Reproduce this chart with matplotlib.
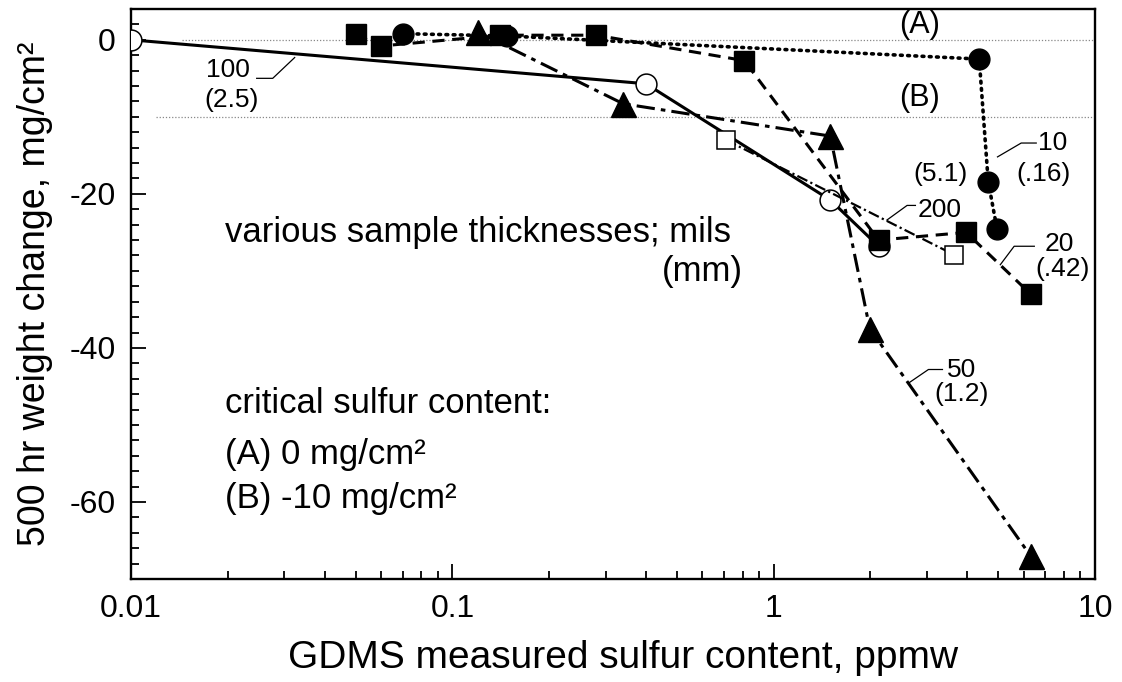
import matplotlib
matplotlib.use("Agg")
import matplotlib.pyplot as plt
from matplotlib.ticker import FixedLocator, MultipleLocator, LogLocator, NullFormatter

plt.rcParams['font.family'] = ['Liberation Sans', 'DejaVu Sans']
plt.rcParams['axes.unicode_minus'] = False

# ---- data ----
s10_x = [0.07, 0.148, 4.36, 4.65, 4.95]
s10_y = [0.8, 0.5, -2.5, -18.4, -24.5]

s20_x = [0.05, 0.06, 0.141, 0.28, 0.81, 2.12, 3.97, 6.3]
s20_y = [0.7, -0.8, 0.6, 0.6, -2.7, -26.0, -25.0, -33.0]

s50_x = [0.12, 0.34, 1.5, 1.99, 6.3]
s50_y = [1.0, -8.3, -12.5, -37.5, -67.0]

s100_x = [0.01, 0.40, 1.5, 2.12]
s100_y = [0.0, -5.7, -20.8, -26.8]

s200_x = [0.71, 3.64]
s200_y = [-13.0, -27.9]

crit_levels = [0.0, -10.0]
crit_names = ["(A)", "(B)"]

x_ticks = [0.01, 0.1, 1, 10]
x_ticklabels = ["0.01", "0.1", "1", "10"]
y_ticks = [0, -20, -40, -60]
y_ticklabels = ["0", "-20", "-40", "-60"]

fig = plt.figure(figsize=(11.22, 6.82), dpi=100)
ax = fig.add_axes([0.1168, 0.151, 0.8592, 0.8358])
ax.set_xscale('log')
ax.set_xlim(0.01, 10)
ax.set_ylim(-70, 4)

# critical level reference lines
ax.hlines(crit_levels[0], 0.0144, 10, colors='#888888', linestyles=(0, (1, 1.5)), lw=0.9, zorder=1)
ax.hlines(crit_levels[1], 0.0120, 10, colors='#888888', linestyles=(0, (1, 1.5)), lw=0.9, zorder=1)

# series
ax.plot(s100_x, s100_y, color='black', lw=2.2, ls='-', marker='o', ms=15,
        mfc='white', mec='black', mew=1.1, zorder=3)
ax.plot(s200_x, s200_y, color='black', lw=1.6, ls=(0, (5, 1.5, 1, 1.5)), marker='s', ms=12.5,
        mfc='white', mec='black', mew=1.1, zorder=3)
ax.plot(s10_x, s10_y, color='black', lw=2.6, ls=(0, (0.5, 1.5)), dash_capstyle='round',
        marker='o', ms=15, mfc='black', mec='black', zorder=4)
ax.plot(s50_x, s50_y, color='black', lw=2.2, ls=(0, (6, 2, 1.5, 2)), marker='^', ms=18,
        mfc='black', mec='black', zorder=4)
ax.plot(s20_x, s20_y, color='black', lw=2.2, ls=(0, (4, 2.5)), marker='s', ms=15,
        mfc='black', mec='black', zorder=5)

# axis formatting
ax.xaxis.set_major_locator(FixedLocator(x_ticks))
ax.set_xticklabels(x_ticklabels)
ax.xaxis.set_minor_locator(LogLocator(base=10, subs=range(2, 10)))
ax.xaxis.set_minor_formatter(NullFormatter())
ax.yaxis.set_major_locator(FixedLocator(y_ticks))
ax.set_yticklabels(y_ticklabels)
ax.yaxis.set_minor_locator(MultipleLocator(2))
ax.tick_params(which='both', direction='in', top=False, right=False, width=1.3)
ax.tick_params(which='major', length=11, labelsize=23)
ax.tick_params(axis='x', which='major', pad=11)
ax.tick_params(axis='y', which='major', pad=11)
ax.tick_params(which='minor', length=5.5)
for sp in ax.spines.values():
    sp.set_linewidth(1.7)

ax.set_xlabel("GDMS measured sulfur content, ppmw", fontsize=28, va='center')
ax.xaxis.set_label_coords(0.51, -0.1386)
ax.set_ylabel("500 hr weight change, mg/cm²", fontsize=27, va='center')
ax.yaxis.set_label_coords(-0.1, 0.5)

# annotations
ax.text(2.85, 1.9, crit_names[0], fontsize=22, ha='center', va='center')
ax.text(2.85, -7.6, crit_names[1], fontsize=22, ha='center', va='center')

big = 25
ax.text(0.0196, -25.0, "various sample thicknesses; mils", fontsize=big, ha='left', va='center')
ax.text(0.80, -30.1, "(mm)", fontsize=big, ha='right', va='center')
ax.text(0.0196, -47.2, "critical sulfur content:", fontsize=big, ha='left', va='center')
ax.text(0.0196, -53.8, "(A) 0 mg/cm²", fontsize=big, ha='left', va='center')
ax.text(0.0196, -59.6, "(B) -10 mg/cm²", fontsize=big, ha='left', va='center')

lab = 19
ax.text(0.0200, -3.9, "100", fontsize=lab, ha='center', va='center')
ax.text(0.0206, -7.8, "(2.5)", fontsize=lab, ha='center', va='center')
ax.plot([0.0246, 0.0276, 0.0323], [-5.0, -5.0, -2.3], color='black', lw=0.9, zorder=2)

ax.text(6.65, -13.4, "10", fontsize=lab, ha='left', va='center')
ax.text(6.9, -17.4, "(.16)", fontsize=lab, ha='center', va='center')
ax.plot([4.97, 5.89, 6.56], [-15.2, -13.4, -13.4], color='black', lw=0.9, zorder=2)

ax.text(3.3, -17.4, "(5.1)", fontsize=lab, ha='center', va='center')
ax.text(2.8, -22.1, "200", fontsize=lab, ha='left', va='center')
ax.plot([2.25, 2.6, 2.76], [-23.4, -21.5, -21.5], color='black', lw=0.9, zorder=2)

ax.text(6.95, -26.5, "20", fontsize=lab, ha='left', va='center')
ax.text(7.9, -29.7, "(.42)", fontsize=lab, ha='center', va='center')
ax.plot([5.07, 5.6, 6.47], [-29.2, -26.8, -26.8], color='black', lw=0.9, zorder=2)

ax.text(3.45, -42.9, "50", fontsize=lab, ha='left', va='center')
ax.text(3.84, -46.0, "(1.2)", fontsize=lab, ha='center', va='center')
ax.plot([2.62, 3.03, 3.35], [-44.6, -42.8, -42.8], color='black', lw=0.9, zorder=2)

fig.savefig("out.png", dpi=100)
